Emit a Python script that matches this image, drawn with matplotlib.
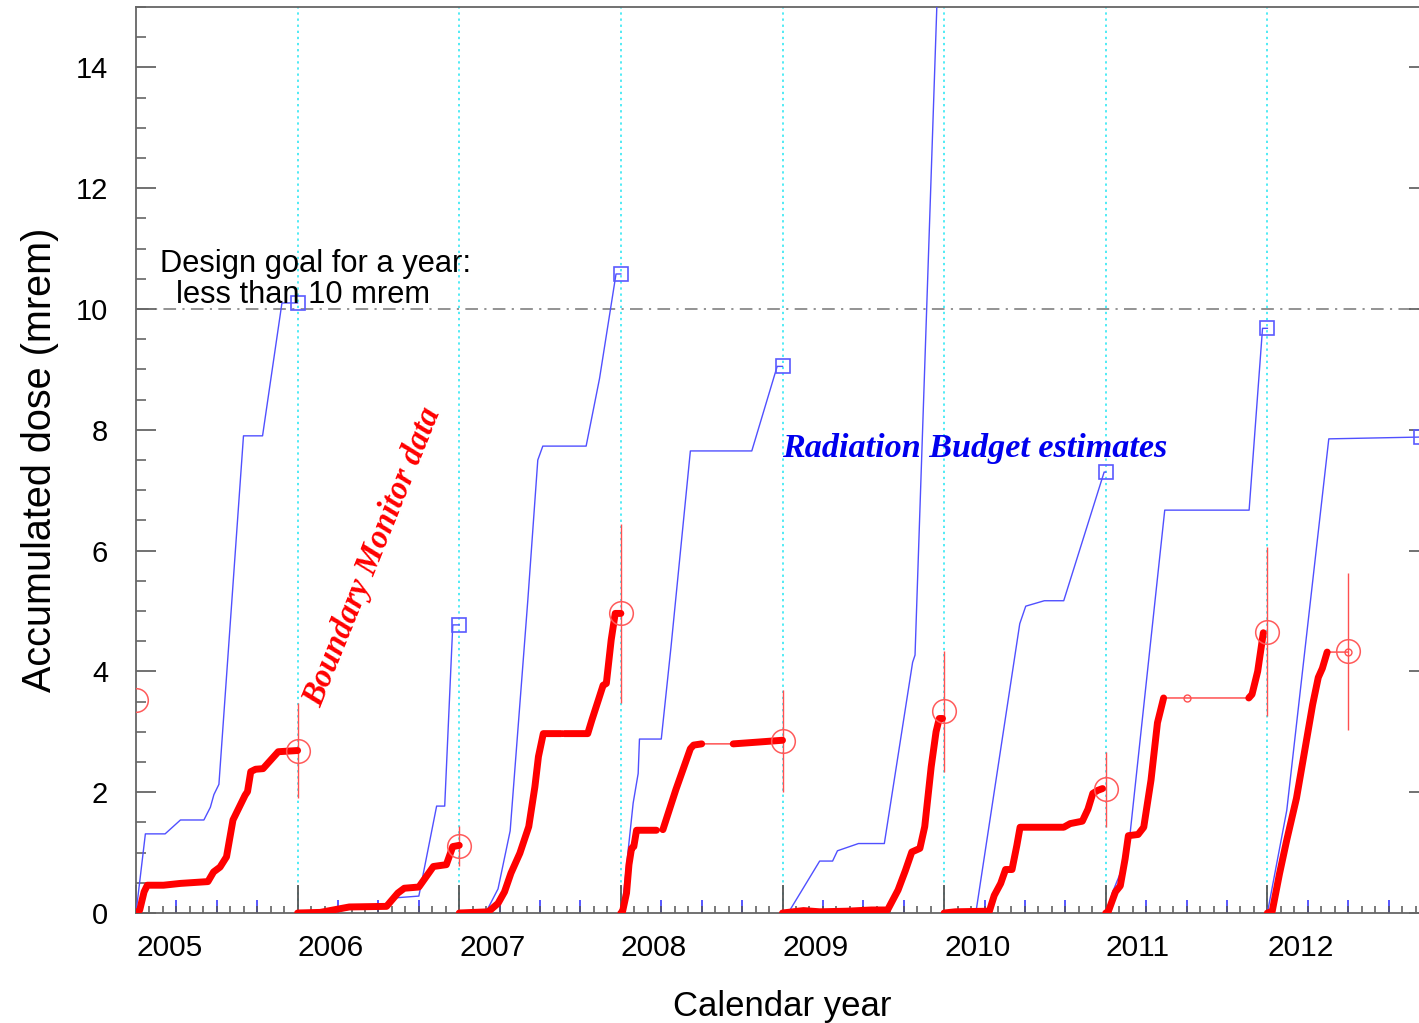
import numpy as np
import matplotlib
matplotlib.use("Agg")
import matplotlib.pyplot as plt

# ---------------- data ----------------
# Boundary Monitor (accumulated dose, mrem) per fiscal year
bm05_x = [2004.75, 2004.773, 2004.80, 2004.82, 2004.92, 2005.025, 2005.195, 2005.23, 2005.27, 2005.31, 2005.35, 2005.425, 2005.44, 2005.46, 2005.49, 2005.536, 2005.63, 2005.75]
bm05_y = [0.0, 0.05, 0.35, 0.46, 0.46, 0.49, 0.52, 0.68, 0.76, 0.93, 1.54, 1.95, 2.01, 2.34, 2.38, 2.39, 2.67, 2.69]
bm06_x = [2005.75, 2005.89, 2006.07, 2006.30, 2006.37, 2006.41, 2006.50, 2006.59, 2006.67, 2006.71, 2006.75]
bm06_y = [0.0, 0.01, 0.10, 0.11, 0.33, 0.41, 0.43, 0.77, 0.80, 1.10, 1.12]
bm07_x = [2006.75, 2006.93, 2006.99, 2007.03, 2007.07, 2007.125, 2007.18, 2007.218, 2007.24, 2007.27, 2007.38, 2007.40, 2007.545, 2007.57, 2007.61, 2007.64, 2007.66, 2007.69, 2007.715, 2007.75]
bm07_y = [0.0, 0.02, 0.16, 0.35, 0.66, 0.99, 1.43, 2.09, 2.59, 2.97, 2.97, 2.97, 2.97, 3.19, 3.52, 3.77, 3.80, 4.52, 4.96, 4.96]
bm08_x = [2007.75, 2007.76, 2007.785, 2007.80, 2007.816, 2007.83, 2007.847, 2007.97, 2008.01, 2008.09, 2008.18, 2008.20, 2008.25, 2008.445, 2008.60, 2008.75]
bm08_y = [0.0, 0.02, 0.33, 0.80, 1.07, 1.10, 1.37, 1.37, 1.38, 2.04, 2.72, 2.78, 2.80, 2.80, 2.83, 2.86]
bm09_x = [2008.75, 2008.88, 2008.98, 2009.15, 2009.30, 2009.40, 2009.465, 2009.51, 2009.55, 2009.60, 2009.63, 2009.67, 2009.70, 2009.72, 2009.74]
bm09_y = [0.0, 0.04, 0.02, 0.03, 0.05, 0.05, 0.38, 0.70, 1.01, 1.07, 1.43, 2.42, 3.00, 3.22, 3.22]
bm10_x = [2009.75, 2009.82, 2010.03, 2010.06, 2010.10, 2010.13, 2010.17, 2010.20, 2010.22, 2010.49, 2010.53, 2010.605, 2010.64, 2010.67, 2010.70, 2010.73]
bm10_y = [0.0, 0.02, 0.03, 0.29, 0.49, 0.72, 0.72, 1.12, 1.42, 1.42, 1.48, 1.52, 1.72, 1.98, 2.03, 2.06]
bm11_x = [2010.75, 2010.765, 2010.81, 2010.84, 2010.87, 2010.89, 2010.95, 2010.985, 2011.03, 2011.07, 2011.108, 2011.25, 2011.635, 2011.655, 2011.69, 2011.725]
bm11_y = [0.0, 0.02, 0.35, 0.45, 0.90, 1.28, 1.30, 1.42, 2.20, 3.15, 3.56, 3.56, 3.56, 3.62, 4.00, 4.64]
bm12_x = [2011.75, 2011.78, 2011.825, 2011.87, 2011.93, 2011.985, 2012.03, 2012.065, 2012.09, 2012.12, 2012.25]
bm12_y = [0.0, 0.03, 0.65, 1.21, 1.90, 2.75, 3.45, 3.90, 4.05, 4.32, 4.32]
# points after which the monitor record has a gap (drawn thin)
bm_gap_starts = [2007.38, 2007.97, 2008.25, 2011.108, 2011.25, 2012.12]

# Yearly totals from boundary monitors, with uncertainty
bm_tot_x = [2004.75, 2005.75, 2006.75, 2007.75, 2008.75, 2009.75, 2010.75, 2011.75, 2012.25]
bm_tot_y = [3.52, 2.69, 1.11, 4.96, 2.85, 3.34, 2.05, 4.66, 4.33]
bm_tot_err = [0.0, 0.78, 0.33, 1.48, 0.85, 1.00, 0.62, 1.40, 1.30]
bm_mid_x = [2011.25, 2012.25]
bm_mid_y = [3.56, 4.32]

# Radiation Budget estimates per fiscal year
rb05_x = [2004.75, 2004.808, 2004.93, 2005.025, 2005.17, 2005.21, 2005.232, 2005.263, 2005.415, 2005.533, 2005.653, 2005.75]
rb05_y = [0.0, 1.31, 1.31, 1.54, 1.54, 1.75, 1.96, 2.13, 7.90, 7.90, 10.10, 10.10]
rb06_x = [2005.75, 2005.95, 2006.10, 2006.31, 2006.35, 2006.50, 2006.61, 2006.66, 2006.71, 2006.75]
rb06_y = [0.0, 0.0, 0.08, 0.09, 0.25, 0.28, 1.77, 1.77, 4.77, 4.77]
rb07_x = [2006.75, 2006.915, 2006.99, 2007.065, 2007.174, 2007.236, 2007.267, 2007.535, 2007.618, 2007.72, 2007.75]
rb07_y = [0.0, 0.01, 0.40, 1.36, 5.17, 7.50, 7.73, 7.73, 8.85, 10.58, 10.58]
rb08_x = [2007.75, 2007.755, 2007.826, 2007.857, 2007.865, 2008.0, 2008.06, 2008.18, 2008.56, 2008.717, 2008.75]
rb08_y = [0.0, 0.02, 1.82, 2.31, 2.88, 2.88, 4.40, 7.65, 7.65, 9.05, 9.05]
rb09_x = [2008.75, 2008.785, 2008.98, 2009.06, 2009.09, 2009.22, 2009.38, 2009.555, 2009.57, 2009.75]
rb09_y = [0.0, 0.0, 0.86, 0.86, 1.03, 1.15, 1.15, 4.15, 4.27, 18.6]
rb10_x = [2009.75, 2009.946, 2010.218, 2010.255, 2010.37, 2010.49, 2010.74, 2010.75]
rb10_y = [0.0, 0.0, 4.79, 5.08, 5.17, 5.17, 7.30, 7.30]
rb11_x = [2010.75, 2010.76, 2010.79, 2010.857, 2010.90, 2011.115, 2011.637, 2011.72, 2011.75]
rb11_y = [0.0, 0.0, 0.33, 0.77, 1.30, 6.67, 6.67, 9.68, 9.68]
rb12_x = [2011.75, 2011.87, 2012.13, 2012.70]
rb12_y = [0.0, 1.70, 7.85, 7.88]

rb_tot_x = [2005.75, 2006.75, 2007.75, 2008.75, 2009.75, 2010.75, 2011.75, 2012.70]
rb_tot_y = [10.10, 4.77, 10.58, 9.05, 18.6, 7.30, 9.68, 7.88]

fy_starts = [2004.75, 2005.75, 2006.75, 2007.75, 2008.75, 2009.75, 2010.75, 2011.75, 2012.75]
fy_labels = ["2005", "2006", "2007", "2008", "2009", "2010", "2011", "2012", ""]
design_goal = 10.0

# ---------------- figure ----------------
W, H = 1419, 1023
fig = plt.figure(figsize=(W / 100, H / 100), dpi=100)
ax = fig.add_axes([136 / W, 1 - 913 / H, 1293 / W, 906 / H])
ax.set_xlim(2004.75, 2012.75)
ax.set_ylim(0, 15)

sans = "Liberation Sans"
serif = "Liberation Serif"

# fiscal-year boundaries
for xv in fy_starts[1:-1]:
    ax.axvline(xv, color="#22e6f2", lw=1.1, ls=(0, (1.5, 2.5)), zorder=1)
ax.axhline(design_goal, color="#8a8a8a", lw=1.3, ls=(0, (7, 3.5, 1.2, 3.5)), zorder=1)

rb_series = [(rb05_x, rb05_y), (rb06_x, rb06_y), (rb07_x, rb07_y), (rb08_x, rb08_y),
             (rb09_x, rb09_y), (rb10_x, rb10_y), (rb11_x, rb11_y), (rb12_x, rb12_y)]
for xs, ys in rb_series:
    ax.plot(xs, ys, color="#5050ff", lw=1.0, zorder=3)
ax.plot(rb_tot_x, rb_tot_y, ls="none", marker="s", ms=10, mfc="none",
        mec="#5a5aff", mew=1.2, zorder=4, clip_on=True)

bm_series = [(bm05_x, bm05_y), (bm06_x, bm06_y), (bm07_x, bm07_y), (bm08_x, bm08_y),
             (bm09_x, bm09_y), (bm10_x, bm10_y), (bm11_x, bm11_y), (bm12_x, bm12_y)]
for xs, ys in bm_series:
    ax.plot(xs, ys, color="#ff4040", lw=1.0, zorder=5)
    tx, ty = [], []
    for i, (a, b) in enumerate(zip(xs, ys)):
        tx.append(a)
        ty.append(b)
        if a in bm_gap_starts and i < len(xs) - 1:
            tx.append(np.nan)
            ty.append(np.nan)
    ax.plot(tx, ty, color="#ff0000", lw=5.0, solid_capstyle="round",
            solid_joinstyle="round", zorder=6)

ax.errorbar(bm_tot_x, bm_tot_y, yerr=bm_tot_err, fmt="none", ecolor="#ff5050",
            elinewidth=1.0, capsize=0, zorder=5)
ax.plot(bm_tot_x, bm_tot_y, ls="none", marker="o", ms=17, mfc="none",
        mec="#ff5a5a", mew=1.1, zorder=7)
ax.plot(bm_mid_x, bm_mid_y, ls="none", marker="o", ms=5, mfc="none",
        mec="#ff5050", mew=1.0, zorder=7)

# ---------------- axes styling ----------------
for s in ["left", "top", "bottom", "right"]:
    ax.spines[s].set_color("#666666")
    ax.spines[s].set_linewidth(1.3)

ax.set_yticks(np.arange(0, 15, 2))
ax.set_yticks(np.arange(0, 15.01, 0.5), minor=True)
ax.yaxis.set_ticks_position("both")
ax.tick_params(axis="y", which="major", direction="in", length=14.5, width=1.3,
               color="#666666", labelsize=21, pad=20)
ax.tick_params(axis="y", which="minor", direction="in", length=7.5, width=1.2,
               color="#666666")

ax.set_xticks(fy_starts)
ax.set_xticklabels(fy_labels)
months = [2004.75 + m / 12 for m in range(0, 97)]
ax.set_xticks(months, minor=True)
ax.tick_params(axis="x", which="major", direction="in", length=20, width=1.3,
               color="#555555", labelsize=21.5, pad=15)
ax.tick_params(axis="x", which="minor", direction="in", length=5, width=1.1,
               color="#555555")
for lab in ax.get_xticklabels():
    lab.set_horizontalalignment("left")
    lab.set_fontfamily(sans)
for lab in ax.get_yticklabels():
    lab.set_fontfamily(sans)

quarters = [y + q for y in range(2005, 2013) for q in (0.0, 0.25, 0.5)]
sec = ax.secondary_xaxis("bottom")
sec.set_xticks(quarters)
sec.tick_params(direction="in", length=9.5, width=1.2, color="#3a3aff",
                labelbottom=False)
sec.spines["bottom"].set_visible(False)

ax.set_ylabel("Accumulated dose (mrem)", fontsize=28.5, family=sans, labelpad=12)
ax.set_xlabel("Calendar year", fontsize=25, family=sans, labelpad=20)

# ---------------- annotations ----------------
ax.text(2004.898, 10.75, "Design goal for a year:", fontsize=22.2, family=sans,
        ha="left", va="center", zorder=8)
ax.text(2004.997, 10.24, "less than 10 mrem", fontsize=22.2, family=sans,
        ha="left", va="center", zorder=8)
ax.text(2006.215, 5.9, "Boundary Monitor data", fontsize=23.5, family=serif,
        weight="bold", style="italic", color="#ff0000", rotation=68,
        rotation_mode="anchor", ha="center", va="center", zorder=8)
ax.text(2008.746, 7.69, "Radiation Budget estimates", fontsize=24.6, family=serif,
        weight="bold", style="italic", color="#0000ee", ha="left", va="center",
        zorder=8)

fig.savefig("out.png", dpi=100)
